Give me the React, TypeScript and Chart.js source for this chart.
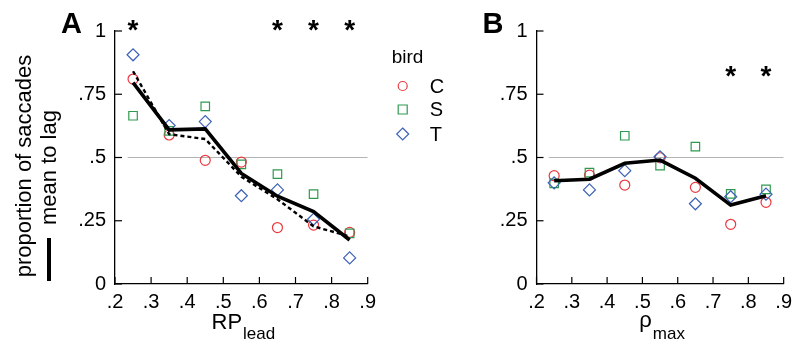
import React, { useEffect, useRef } from "react";
import { Chart, registerables } from "chart.js";

Chart.register(...registerables);

const FONT = '"Liberation Sans", Arial, Helvetica, sans-serif';

// bin centres (x values of every point)
const binCenters = [0.25, 0.35, 0.45, 0.55, 0.65, 0.75, 0.85];
const xMin = 0.2;
const xMax = 0.9;
const xStep = 0.1;
const yMin = 0;
const yMax = 1;
const yStep = 0.25;
const refLevel = 0.5;
const refSpan = [0.235, 0.9];

// Panel A : RP lead
const aBirdC = [0.81, 0.589, 0.489, 0.482, 0.223, 0.233, 0.204];
const aBirdS = [0.665, 0.605, 0.702, 0.473, 0.434, 0.355, 0.2];
const aBirdT = [0.906, 0.626, 0.642, 0.349, 0.372, 0.256, 0.103];
const aMean = [0.796, 0.609, 0.613, 0.437, 0.347, 0.286, 0.174];
const aPooled = [0.841, 0.592, 0.573, 0.424, 0.335, 0.228, 0.188];
const aStars = [0.25, 0.65, 0.75, 0.85];
const aStarLevel = 1.03;

// Panel B : rho max
const bBirdC = [0.428, 0.43, 0.391, 0.499, 0.382, 0.236, 0.323];
const bBirdS = [0.398, 0.44, 0.586, 0.468, 0.543, 0.356, 0.374];
const bBirdT = [0.4, 0.372, 0.448, 0.503, 0.317, 0.345, 0.355];
const bMean = [0.408, 0.414, 0.477, 0.49, 0.418, 0.312, 0.349];
const bStars = [0.75, 0.85];
const bStarLevel = 0.846;

const birdNames = ["C", "S", "T"];
const birdColors = ["#e9393f", "#2f9a4f", "#3d62b8"];
const birdStyles = ["circle", "rect", "rectRot"];
const birdRadii = [5, 6, 6];

const pts = (ys: number[]) => ys.map((y, i) => ({ x: binCenters[i], y }));

const fmt = (v: number) => {
  const r = Math.round(v * 100) / 100;
  if (r === 0) return "0";
  if (r === 1) return "1";
  return r.toString().replace(/^0/, "");
};

type Deco = {
  panel: string;
  stars: number[];
  starLevel: number;
  titleMain: string;
  titleSub: string;
  mainBase: number;
  legend: boolean;
  yTitle: boolean;
};

function decoPlugin(d: Deco) {
  return {
    id: "deco",
    afterDraw(chart: any) {
      const { ctx, chartArea: ca } = chart;
      const xs = chart.scales.x;
      const ys = chart.scales.y;
      ctx.save();
      // inward tick marks
      ctx.strokeStyle = "#000";
      ctx.lineWidth = 1.2;
      for (const t of xs.ticks) {
        const px = xs.getPixelForValue(t.value);
        ctx.beginPath();
        ctx.moveTo(px, ca.bottom);
        ctx.lineTo(px, ca.bottom - 7);
        ctx.stroke();
      }
      for (const t of ys.ticks) {
        const py = ys.getPixelForValue(t.value);
        ctx.beginPath();
        ctx.moveTo(ca.left, py);
        ctx.lineTo(ca.left + 7, py);
        ctx.stroke();
      }
      ctx.fillStyle = "#000";
      // significance stars
      const starSize = 28;
      ctx.font = `bold ${starSize}px ${FONT}`;
      ctx.textAlign = "center";
      ctx.textBaseline = "alphabetic";
      for (const s of d.stars) {
        ctx.fillText("*", xs.getPixelForValue(s), ys.getPixelForValue(d.starLevel) + 0.55 * starSize);
      }
      // panel letter
      ctx.font = `bold 29px ${FONT}`;
      ctx.textAlign = "left";
      ctx.fillText(d.panel, ca.left - 54, ca.top + 2);
      // x title with subscript
      const cx = (ca.left + ca.right) / 2 + 2;
      ctx.font = `22px ${FONT}`;
      const w1 = ctx.measureText(d.titleMain).width;
      ctx.font = `17px ${FONT}`;
      const w2 = ctx.measureText(d.titleSub).width;
      const x0 = cx - (w1 + w2 + 1) / 2;
      ctx.font = `22px ${FONT}`;
      ctx.fillText(d.titleMain, x0, ca.bottom + d.mainBase);
      ctx.font = `17px ${FONT}`;
      ctx.fillText(d.titleSub, x0 + w1 + 1, ca.bottom + 55);

      if (d.yTitle) {
        ctx.save();
        ctx.translate(25, 166);
        ctx.rotate(-Math.PI / 2);
        ctx.font = `22px ${FONT}`;
        ctx.textAlign = "center";
        ctx.textBaseline = "middle";
        ctx.fillText("proportion of saccades", 0, 0);
        ctx.restore();
        ctx.save();
        ctx.translate(50, 167.5);
        ctx.rotate(-Math.PI / 2);
        ctx.font = `22px ${FONT}`;
        ctx.textAlign = "center";
        ctx.textBaseline = "middle";
        ctx.fillText("mean to lag", 0, 0);
        ctx.restore();
        ctx.fillRect(47, 238, 4, 43);
      }

      if (d.legend) {
        const lx = ca.right + 24;
        ctx.font = `19px ${FONT}`;
        ctx.textAlign = "left";
        ctx.textBaseline = "alphabetic";
        ctx.fillText("bird", lx, 63);
        const rows = [86, 109.5, 134];
        const mx = lx + 11;
        ctx.lineWidth = 1.2;
        birdNames.forEach((n, i) => {
          const y = rows[i];
          ctx.strokeStyle = birdColors[i];
          ctx.beginPath();
          if (birdStyles[i] === "circle") {
            ctx.arc(mx, y, 4.5, 0, Math.PI * 2);
          } else if (birdStyles[i] === "rect") {
            ctx.rect(mx - 4.5, y - 4.5, 9, 9);
          } else {
            ctx.moveTo(mx, y - 6);
            ctx.lineTo(mx + 6, y);
            ctx.lineTo(mx, y + 6);
            ctx.lineTo(mx - 6, y);
            ctx.closePath();
          }
          ctx.stroke();
          ctx.fillStyle = "#000";
          ctx.font = `20px ${FONT}`;
          ctx.textBaseline = "middle";
          ctx.fillText(n, lx + 38, y + 1);
        });
      }
      ctx.restore();
    },
  };
}

function birdSets(c: number[], s: number[], t: number[]) {
  const series = [t, s, c];
  const idx = [2, 1, 0];
  return series.map((vals, k) => {
    const i = idx[k];
    return {
      label: birdNames[i],
      data: pts(vals),
      pointStyle: birdStyles[i],
      pointRadius: birdRadii[i],
      pointBorderColor: birdColors[i],
      pointBackgroundColor: "rgba(0,0,0,0)",
      pointBorderWidth: 1.2,
      showLine: false,
    };
  });
}

function makeConfig(datasets: any[], width: number, plotLeft: number, plotRight: number, deco: Deco) {
  return {
    type: "scatter",
    data: { datasets },
    options: {
      animation: false,
      responsive: false,
      devicePixelRatio: 1,
      layout: { padding: { left: 0, right: width - plotRight, top: 31, bottom: 0 } },
      plugins: { legend: { display: false }, tooltip: { enabled: false } },
      scales: {
        x: {
          type: "linear",
          min: xMin,
          max: xMax,
          grid: { display: false, drawTicks: false },
          border: { display: true, color: "#000", width: 1.3 },
          ticks: {
            stepSize: xStep,
            autoSkip: false,
            maxRotation: 0,
            padding: 6,
            color: "#000",
            font: { family: FONT, size: 20 },
            callback: (v: any) => fmt(Number(v)),
          },
          afterFit: (s: any) => {
            s.height = 67;
          },
        },
        y: {
          type: "linear",
          min: yMin,
          max: yMax,
          grid: { display: false, drawTicks: false },
          border: { display: true, color: "#000", width: 1.3 },
          ticks: {
            stepSize: yStep,
            padding: 9,
            color: "#000",
            font: { family: FONT, size: 20 },
            callback: (v: any) => fmt(Number(v)),
          },
          afterFit: (s: any) => {
            s.width = plotLeft;
          },
        },
      },
    },
    plugins: [decoPlugin(deco)],
  };
}

const refSet = () => ({
  label: "ref",
  data: refSpan.map((x) => ({ x, y: refLevel })),
  showLine: true,
  borderColor: "#b4b4b4",
  borderWidth: 1.2,
  pointRadius: 0,
});

export default function App() {
  const refA = useRef<HTMLCanvasElement>(null);
  const refB = useRef<HTMLCanvasElement>(null);

  useEffect(() => {
    const dsA = [
      {
        label: "mean",
        data: pts(aMean),
        showLine: true,
        borderColor: "#000",
        borderWidth: 3.6,
        pointRadius: 0,
      },
      {
        label: "pooled",
        data: pts(aPooled),
        showLine: true,
        borderColor: "#000",
        borderWidth: 2.4,
        borderDash: [4, 3],
        pointRadius: 0,
      },
      ...birdSets(aBirdC, aBirdS, aBirdT),
      refSet(),
    ];
    const dsB = [
      {
        label: "mean",
        data: pts(bMean),
        showLine: true,
        borderColor: "#000",
        borderWidth: 3.6,
        pointRadius: 0,
      },
      ...birdSets(bBirdC, bBirdS, bBirdT),
      refSet(),
    ];
    const chartA = new Chart(
      refA.current as HTMLCanvasElement,
      makeConfig(dsA, 470, 115, 367.7, {
        panel: "A",
        stars: aStars,
        starLevel: aStarLevel,
        titleMain: "RP",
        titleSub: "lead",
        mainBase: 45,
        legend: true,
        yTitle: true,
      }) as any
    );
    const chartB = new Chart(
      refB.current as HTMLCanvasElement,
      makeConfig(dsB, 378, 116.5, 369, {
        panel: "B",
        stars: bStars,
        starLevel: bStarLevel,
        titleMain: "ρ",
        titleSub: "max",
        mainBase: 43,
        legend: false,
        yTitle: false,
      }) as any
    );
    return () => {
      chartA.destroy();
      chartB.destroy();
    };
  }, []);

  return (
    <div style={{ position: "absolute", left: 0, top: 0, width: 798, height: 351, background: "#fff" }}>
      <canvas ref={refA} width={470} height={351} style={{ position: "absolute", left: 0, top: 0 }} />
      <canvas ref={refB} width={378} height={351} style={{ position: "absolute", left: 420, top: 0 }} />
    </div>
  );
}
